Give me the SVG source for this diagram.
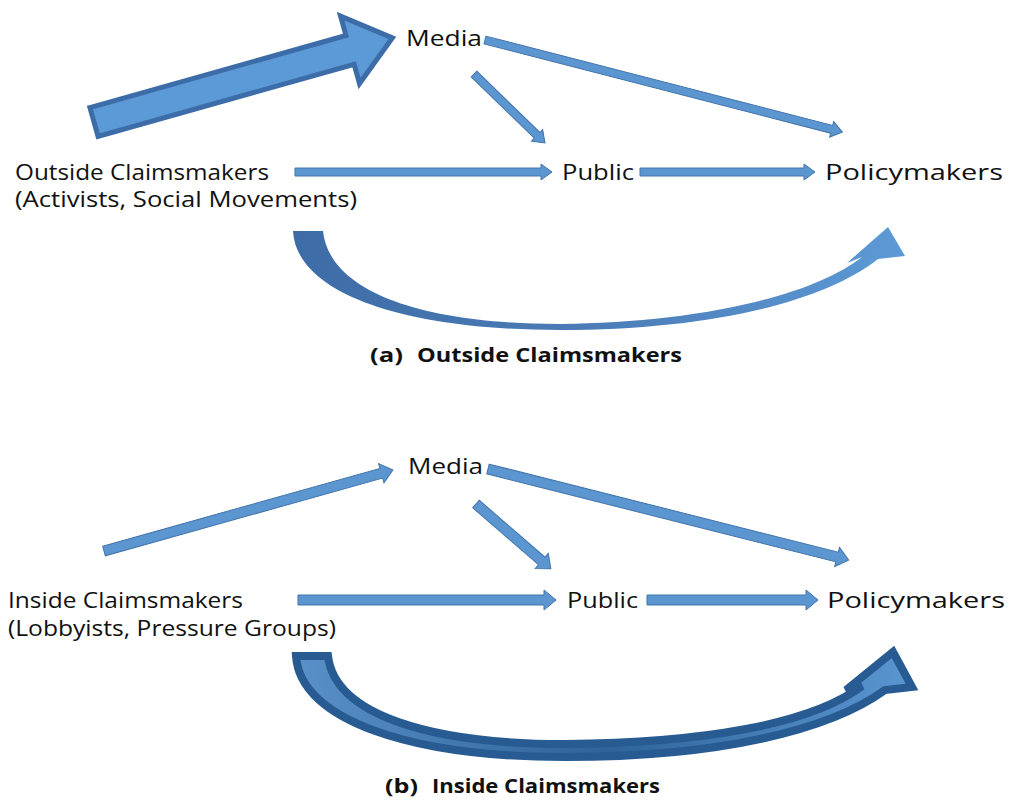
<svg xmlns="http://www.w3.org/2000/svg" width="1012" height="800" viewBox="0 0 1012 800">
  <style>
    .lbl { font-family: "Open Sans", "Liberation Sans", sans-serif; font-size: 21px; fill: #111; }
    .cap { font-family: "Open Sans", "Liberation Sans", sans-serif; font-size: 19px; font-weight: bold; fill: #111; }
    .thin { fill: #5b96d1; stroke: #4274aa; stroke-width: 1; }
    .big { fill: #5b9ad6; stroke: #3d6da8; stroke-width: 5; stroke-linejoin: miter; }
  </style>
  <defs>
    <linearGradient id="curveA" x1="0" y1="0" x2="1" y2="0">
      <stop offset="0" stop-color="#3d6ca6"/>
      <stop offset="0.5" stop-color="#4c7db8"/>
      <stop offset="1" stop-color="#5c9ad6"/>
    </linearGradient>
    <linearGradient id="curveB" x1="0" y1="0" x2="1" y2="0">
      <stop offset="0" stop-color="#5a90c8"/>
      <stop offset="0.5" stop-color="#2f6399"/>
      <stop offset="1" stop-color="#5b96d1"/>
    </linearGradient>
  </defs>
  <rect width="1012" height="800" fill="#ffffff"/>

  <!-- connectors -->
  <g id="connectors">
    <!-- (a) outside claimsmakers -->
    <g id="a-out-media" transform="translate(94,122) rotate(-15.74)">
      <polygon class="big" points="0,-15 266,-15 266,-35 310,0 266,35 266,15 0,15"/>
    </g>
    <g id="a-media-policy" transform="translate(485,40) rotate(14.45)">
      <polygon class="thin" points="0,-4 358,-4 358,-8 369,0 358,8 358,4 0,4"/>
    </g>
    <g id="a-media-public" transform="translate(474,74) rotate(44.2)">
      <polygon class="thin" points="0,-4 88,-4 88,-8 99,0 88,8 88,4 0,4"/>
    </g>
    <g id="a-out-public" transform="translate(295,172)">
      <polygon class="thin" points="0,-4 246,-4 246,-8 257,0 246,8 246,4 0,4"/>
    </g>
    <g id="a-public-policy" transform="translate(640,172)">
      <polygon class="thin" points="0,-4 164,-4 164,-8 175,0 164,8 164,4 0,4"/>
    </g>
    <path id="a-out-policy" fill="url(#curveA)" d="M 293,231 C 296,292 400,330 560,330 C 700,330 820,305 878,259 L 905,256 L 888,227 L 847,263 L 862,257 C 810,298 690,323 560,324 C 430,324 330,295 323,231 Z"/>

    <!-- (b) inside claimsmakers -->
    <g id="b-in-media" transform="translate(104,551) rotate(-15.66)">
      <polygon class="thin" points="0,-5 288,-5 288,-10 300,0 288,10 288,5 0,5"/>
    </g>
    <g id="b-media-policy" transform="translate(488,469) rotate(14.15)">
      <polygon class="thin" points="0,-5 360,-5 360,-10 372,0 360,10 360,5 0,5"/>
    </g>
    <g id="b-media-public" transform="translate(476,504) rotate(40.9)">
      <polygon class="thin" points="0,-5 87,-5 87,-10 99,0 87,10 87,5 0,5"/>
    </g>
    <g id="b-in-public" transform="translate(298,600)">
      <polygon class="thin" points="0,-5 246,-5 246,-10 258,0 246,10 246,5 0,5"/>
    </g>
    <g id="b-public-policy" transform="translate(647,600)">
      <polygon class="thin" points="0,-5 159,-5 159,-10 171,0 159,10 159,5 0,5"/>
    </g>
    <path id="b-in-policy" fill="url(#curveB)" stroke="#275b91" stroke-width="8" stroke-linejoin="miter" d="M 296,656 C 300,720 410,757 565,757 C 720,757 830,730 885,690 L 912,687 L 893,652 L 846,690 L 862,686 C 810,725 700,743 565,744 C 430,744 335,715 328,656 Z"/>
  </g>

  <!-- (a) nodes -->
  <g id="a-media"><text class="lbl" x="406" y="46" textLength="76" lengthAdjust="spacingAndGlyphs">Media</text></g>
  <g id="a-outside">
    <text class="lbl" x="15" y="180" textLength="254" lengthAdjust="spacingAndGlyphs">Outside Claimsmakers</text>
    <text class="lbl" x="15" y="207" textLength="342" lengthAdjust="spacingAndGlyphs">(Activists, Social Movements)</text>
  </g>
  <g id="a-public"><text class="lbl" x="562" y="180" textLength="72" lengthAdjust="spacingAndGlyphs">Public</text></g>
  <g id="a-policy"><text class="lbl" x="825" y="180" textLength="178" lengthAdjust="spacingAndGlyphs">Policymakers</text></g>
  <g id="a-caption">
    <text class="cap" x="370" y="362" textLength="33" lengthAdjust="spacingAndGlyphs">(a)</text>
    <text class="cap" x="417" y="362" textLength="265" lengthAdjust="spacingAndGlyphs">Outside Claimsmakers</text>
  </g>

  <!-- (b) nodes -->
  <g id="b-media"><text class="lbl" x="408" y="474" textLength="75" lengthAdjust="spacingAndGlyphs">Media</text></g>
  <g id="b-inside">
    <text class="lbl" x="8" y="608" textLength="235" lengthAdjust="spacingAndGlyphs">Inside Claimsmakers</text>
    <text class="lbl" x="8" y="636" textLength="328" lengthAdjust="spacingAndGlyphs">(Lobbyists, Pressure Groups)</text>
  </g>
  <g id="b-public"><text class="lbl" x="567" y="608" textLength="71" lengthAdjust="spacingAndGlyphs">Public</text></g>
  <g id="b-policy"><text class="lbl" x="827" y="608" textLength="178" lengthAdjust="spacingAndGlyphs">Policymakers</text></g>
  <g id="b-caption">
    <text class="cap" x="385" y="793" textLength="33" lengthAdjust="spacingAndGlyphs">(b)</text>
    <text class="cap" x="432" y="793" textLength="228" lengthAdjust="spacingAndGlyphs">Inside Claimsmakers</text>
  </g>
</svg>
